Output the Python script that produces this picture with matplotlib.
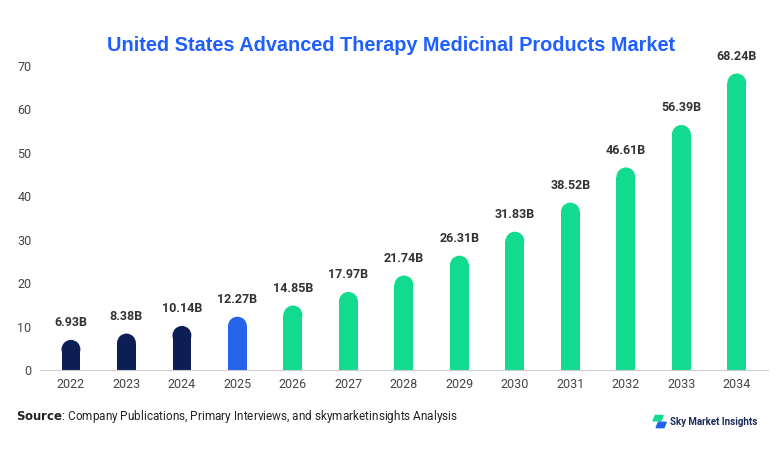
import matplotlib
matplotlib.use("Agg")
import matplotlib.pyplot as plt
from matplotlib.patches import Ellipse, Polygon

years = ["2022", "2023", "2024", "2025", "2026", "2027", "2028",
         "2029", "2030", "2031", "2032", "2033", "2034"]
values = [6.93, 8.38, 10.14, 12.27, 14.85, 17.97, 21.74,
          26.31, 31.83, 38.52, 46.61, 56.39, 68.24]
labels = [f"{v:.2f}B" for v in values]

NAVY, BLUE, GREEN = "#0b1f55", "#2563eb", "#12db8f"
colors = [NAVY] * 3 + [BLUE] + [GREEN] * 9

plt.rcParams['font.family'] = ['Roboto', 'DejaVu Sans']
fig = plt.figure(figsize=(7.82, 4.54), dpi=100)
ax = fig.add_axes([0.051, 0.185, 0.931, 0.67])
ax.set_xlim(-0.56, len(years) - 0.44)
ax.set_ylim(0, 70)

w = 0.34
# radius of rounded cap, converted to data units on y
px_per_x = 0.931 * 782 / (len(years) + 0.12)
px_per_y = 0.67 * 454 / 70
r_px = w * px_per_x / 2
r_y = r_px / px_per_y
for i, (v, c) in enumerate(zip(values, colors)):
    ax.bar(i, v - r_y, width=w, color=c, align='center', lw=0)
    ax.add_patch(Ellipse((i, v - r_y), w, 2 * r_y, color=c, lw=0))
    ax.text(i, v + 2.5, labels[i], ha='center', va='bottom',
            fontsize=9, fontweight='bold', color='#333333')

ax.set_xticks(range(len(years)))
ax.set_xticklabels(years)
ax.set_yticks(range(0, 71, 10))
ax.tick_params(axis='both', length=0, labelsize=9, colors='#444444', pad=6)
for s in ['top', 'right', 'left']:
    ax.spines[s].set_visible(False)
ax.spines['bottom'].set_color('#cccccc')

fig.text(0.5, 0.887, "United States Advanced Therapy Medicinal Products Market",
         ha='center', fontsize=14.3, fontweight='bold', color='#1f5fff',
         family=['Liberation Sans', 'DejaVu Sans'])
fig.text(0.02, 0.075, r"$\bf{Source}$: Company Publications, Primary Interviews, and skymarketinsights Analysis",
         fontsize=8.5, color='#222222')

# logo
fig.patches.append(Polygon([[0.838, 0.085], [0.848, 0.085], [0.845, 0.073], [0.835, 0.073]],
                           closed=True, transform=fig.transFigure, color=GREEN))
fig.patches.append(Polygon([[0.842, 0.070], [0.852, 0.070], [0.849, 0.058], [0.839, 0.058]],
                           closed=True, transform=fig.transFigure, color=BLUE))
fig.text(0.857, 0.071, "Sky Market Insights", fontsize=7, color='#1a2a5a',
         fontweight='bold', va='center')

fig.savefig("out.png", dpi=100)
